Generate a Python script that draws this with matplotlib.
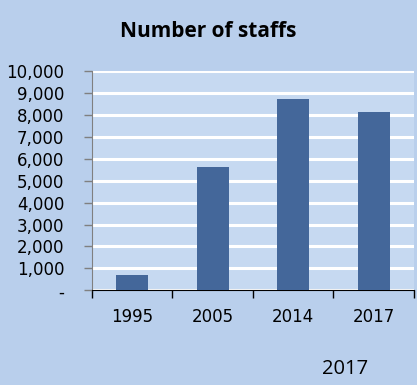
import matplotlib
matplotlib.use("Agg")
import matplotlib.pyplot as plt
from matplotlib.ticker import FixedLocator, FuncFormatter

# data
years = ["1995", "2005", "2014", "2017"]
staffs = [700, 5600, 8730, 8150]
y_ticks = list(range(0, 10001, 1000))

BG = "#b9cfec"
PLOT_BG = "#c6d9f1"
BAR = "#44679a"

plt.rcParams["font.family"] = ["DejaVu Sans"]

fig = plt.figure(figsize=(4.17, 3.85), dpi=100, facecolor=BG)
ax = fig.add_axes([0.2206, 0.246, 0.772, 0.5696], facecolor=PLOT_BG)

x = list(range(len(years)))
ax.bar(x, staffs, width=0.4, color=BAR, zorder=3)

ax.set_xlim(-0.5, len(years) - 0.5)
ax.set_ylim(0, 10000)
ax.yaxis.set_major_locator(FixedLocator(y_ticks))
ax.yaxis.set_major_formatter(FuncFormatter(lambda v, p: "-" if v == 0 else f"{int(v):,}"))
ax.grid(axis="y", color="white", linewidth=2.2, zorder=1)

# category labels between boundary ticks
ax.set_xticks([i - 0.5 for i in range(len(years) + 1)])
ax.set_xticklabels([])
ax.set_xticks(x, minor=True)
ax.set_xticklabels(years, minor=True, fontsize=12)
ax.tick_params(axis="x", which="major", length=6, width=1, color="black", direction="out")
ax.tick_params(axis="x", which="minor", length=0, pad=13)
ax.tick_params(axis="y", length=6, width=1, color="#808080", labelsize=12, pad=14)

for s in ["top", "right"]:
    ax.spines[s].set_visible(False)
ax.spines["left"].set_color("#808080")
ax.spines["bottom"].set_color("black")

fig.text(0.50, 0.917, "Number of staffs", ha="center", va="center",
         fontsize=15, fontweight="bold", family=["Open Sans", "DejaVu Sans"])
fig.text(0.827, 0.042, "2017", ha="center", va="center", fontsize=14.5,
         fontweight="medium", family=["Open Sans", "DejaVu Sans"])

fig.savefig("out.png", dpi=100, facecolor=BG)
